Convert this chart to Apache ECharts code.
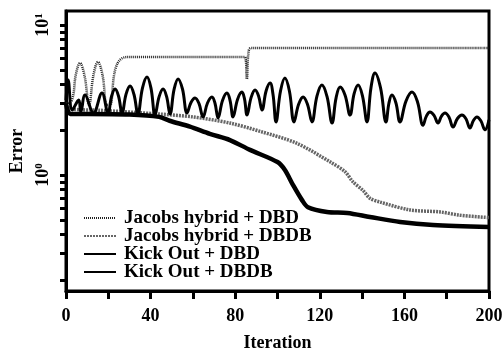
<!DOCTYPE html>
<html>
<head>
<meta charset="utf-8">
<script src="https://cdn.jsdelivr.net/npm/echarts@6/dist/echarts.min.js"></script>
<style>
  html, body { margin: 0; padding: 0; background: #fff; }
  #chart { width: 504px; height: 353px; }
</style>
</head>
<body>
<div id="chart"></div>
<script>
// data: [iteration, error]
var legendNames = ['Jacobs hybrid + DBD', 'Jacobs hybrid + DBDB', 'Kick Out + DBD', 'Kick Out + DBDB'];

var jacobsDBD = [
  [0, 3.0], [2.8, 3.16], [4.7, 4.71], [6.6, 5.58], [8.75, 4.6], [10.9, 2.93], [13, 4.65],
  [15.1, 5.67], [17.25, 4.65], [19.4, 2.93], [20.8, 2.93], [23.2, 5.0], [26.5, 6.0],
  [30.3, 6.12], [84.5, 6.12], [85.5, 4.37], [86.3, 6.6], [87.5, 7.03], [200, 7.03]
];
var jacobsDBDB = [
  [0, 2.9], [3, 2.75], [16, 2.7], [44, 2.55], [60, 2.44], [77.5, 2.22], [92, 1.95],
  [109, 1.63], [125, 1.22], [132, 1.05], [135.7, 0.9], [140.4, 0.79], [143.7, 0.7],
  [148.5, 0.66], [162.6, 0.585], [177, 0.567], [186, 0.54], [200, 0.52]
];
var kickDBD = [
  [0, 3.16], [1, 4.3], [3, 2.71], [6, 3.16], [7, 2.63], [9, 3.41], [13, 2.59], [17, 3.52],
  [19.9, 2.59], [21.55, 3.35], [23.2, 3.74], [24.85, 3.35], [26.5, 2.59], [28.4, 3.46],
  [30.3, 3.92], [32.15, 3.44], [34, 2.55], [36.15, 3.8], [38.3, 4.5], [40.2, 3.78],
  [42.1, 2.51], [44, 3.32], [45.9, 3.74], [47.55, 3.34], [49.2, 2.55], [51.1, 3.72],
  [53, 4.37], [55.1, 3.73], [57.2, 2.59], [59.1, 3.04], [61, 3.26], [62.9, 2.99],
  [64.8, 2.44], [66.9, 3.02], [69, 3.31], [70.45, 3.01], [71.9, 2.4], [74, 3.14],
  [76.1, 3.52], [77.55, 3.15], [79, 2.44], [81.1, 3.19], [83.2, 3.57], [84.4, 3.22],
  [85.6, 2.51], [87.5, 3.28], [89.4, 3.69], [91.05, 3.36], [92.7, 2.71], [94.6, 3.63],
  [96.5, 4.1], [97.9, 3.43], [99.3, 2.26], [101.4, 3.62], [103.5, 4.43], [105.65, 3.62],
  [107.8, 2.26], [109.95, 2.95], [112.1, 3.31], [114.2, 2.95], [116.3, 2.26],
  [118.65, 3.36], [121, 3.98], [123.4, 3.34], [125.8, 2.22], [127.7, 3.27], [129.6, 3.86],
  [131.95, 3.4], [134.3, 2.51], [136.2, 3.47], [138.1, 3.98], [140.2, 3.36], [142.3, 2.26],
  [144.2, 3.82], [146.1, 4.79], [148.7, 3.82], [151.3, 2.26], [152.7, 3.02], [154.1, 3.41],
  [156, 3.02], [157.9, 2.26], [160.75, 3.11], [163.6, 3.57], [166.2, 3.07], [168.8, 2.15],
  [170.45, 2.48], [172.1, 2.63], [174, 2.5], [175.9, 2.22], [177.55, 2.47], [179.2, 2.59],
  [181.1, 2.43], [183, 2.09], [185.1, 2.38], [187.2, 2.51], [189.1, 2.37], [191, 2.06],
  [192.65, 2.31], [194.3, 2.44], [196.2, 2.29], [198.1, 2.0], [200, 2.33]
];
var kickDBDB = [
  [0, 3.0], [2, 2.55], [10, 2.55], [30, 2.53], [44, 2.44], [49, 2.3], [58.6, 2.1],
  [68, 1.88], [77.5, 1.71], [87, 1.47], [100, 1.22], [103.5, 1.08], [107.3, 0.86],
  [111.6, 0.68], [114.4, 0.61], [123.4, 0.567], [133, 0.558], [143.7, 0.525],
  [158, 0.486], [173.5, 0.464], [200, 0.45]
];

// axis ticks
var xMin = 0, xMax = 200, xStep = 20;
var yMin = 0.1685, yMax = 12.4;
var yTicks = [0.2, 0.3, 0.4, 0.5, 0.6, 0.7, 0.8, 0.9, 1, 2, 3, 4, 5, 6, 7, 8, 9, 10];
var yLabels = [1, 10];

var serif = 'Liberation Serif';
var chart = echarts.init(document.getElementById('chart'));

chart.setOption({
  animation: false,
  grid: {
    left: 66, right: 15, top: 11, bottom: 62,
    outerBoundsMode: 'none',
    show: true, borderColor: '#000', borderWidth: 3
  },
  legend: {
    data: legendNames,
    orient: 'vertical',
    left: 78, top: 202, z: 20,
    itemWidth: 32, itemHeight: 12, itemGap: -4,
    itemStyle: { opacity: 0 },
    textStyle: {
      fontFamily: serif, fontWeight: 'bold', fontSize: 19, color: '#000',
      lineHeight: 22, padding: [0, 0, 0, 3]
    }
  },
  xAxis: {
    type: 'value', min: xMin, max: xMax, interval: xStep,
    name: 'Iteration', nameLocation: 'middle', nameGap: 43,
    nameTextStyle: { fontFamily: serif, fontWeight: 'bold', fontSize: 18, color: '#000' },
    axisLine: { lineStyle: { color: '#000', width: 3 } },
    axisTick: { length: 8, lineStyle: { color: '#000', width: 3 } },
    axisLabel: {
      margin: 16, fontFamily: serif, fontWeight: 'bold', fontSize: 18, color: '#000',
      formatter: function (v) { return v % 40 === 0 ? String(v) : ''; }
    },
    splitLine: { show: false }
  },
  yAxis: {
    type: 'log', min: yMin, max: yMax,
    name: 'Error', nameLocation: 'middle', nameGap: 40, nameRotate: 90,
    nameTextStyle: { fontFamily: serif, fontWeight: 'bold', fontSize: 18, color: '#000' },
    axisLine: { show: true, lineStyle: { color: '#000', width: 3 } },
    axisTick: { show: true, length: 6, customValues: yTicks, lineStyle: { color: '#000', width: 3 } },
    axisLabel: {
      customValues: yLabels, rotate: 90, margin: 13,
      formatter: function (v) {
        return '{a|10}{b|' + Math.round(Math.log10(v)) + '}';
      },
      rich: {
        a: { fontFamily: serif, fontWeight: 'bold', fontSize: 18, color: '#000' },
        b: { fontFamily: serif, fontWeight: 'bold', fontSize: 11, color: '#000', verticalAlign: 'top', padding: [0, 0, 8, 0] }
      }
    },
    splitLine: { show: false }
  },
  series: [
    {
      name: legendNames[0], type: 'line', data: jacobsDBD, symbol: 'none', smooth: 0.4,
      lineStyle: { color: '#222', width: 2.5, type: [1, 1] }, itemStyle: { color: '#222' }
    },
    {
      name: legendNames[1], type: 'line', data: jacobsDBDB, symbol: 'none', smooth: 0.3,
      lineStyle: { color: '#666', width: 3.5, type: [2, 1] }, itemStyle: { color: '#666' }
    },
    {
      name: legendNames[2], type: 'line', data: kickDBD, symbol: 'none', smooth: 0.4,
      lineStyle: { color: '#000', width: 3 }, itemStyle: { color: '#000' }
    },
    {
      name: legendNames[3], type: 'line', data: kickDBDB, symbol: 'none', smooth: 0.3,
      lineStyle: { color: '#000', width: 4.5 }, itemStyle: { color: '#000' }
    }
  ]
});
</script>
</body>
</html>
